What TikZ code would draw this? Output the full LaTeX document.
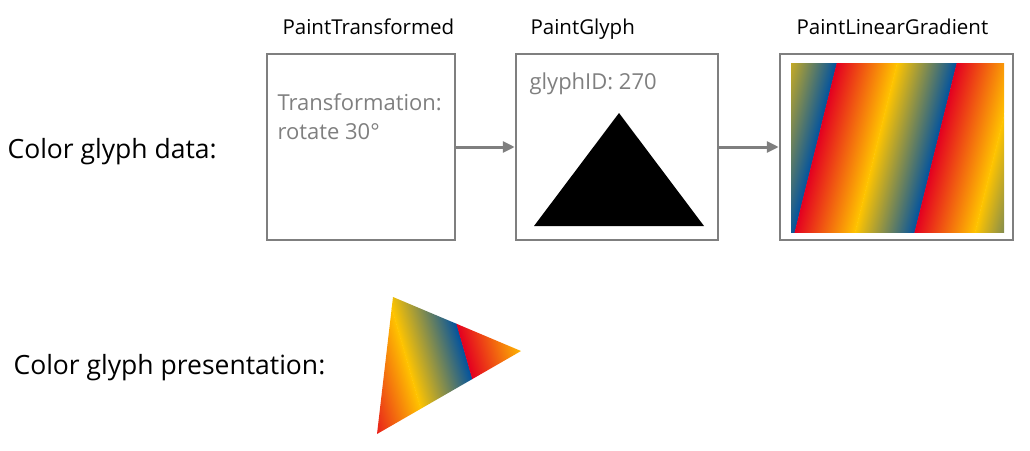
\documentclass[tikz,border=0pt]{standalone}
\usepackage{fontspec}
\setmainfont{Open Sans}
\usetikzlibrary{arrows.meta,positioning}
\definecolor{framegray}{RGB}{127,127,127}
\definecolor{gradred}{RGB}{228,0,32}
\definecolor{gradyellow}{RGB}{255,196,0}
\definecolor{gradblue}{RGB}{0,82,160}

\begin{document}
\begin{tikzpicture}[x=1pt, y=-1pt,
        block/.style={draw=framegray, line width=2.5pt, inner sep=0pt, minimum height=186pt},
        title/.style={anchor=base west, font=\fontsize{20.5}{24}\selectfont},
        info/.style={anchor=base west, text=framegray, font=\fontsize{22}{26}\selectfont},
        caption/.style={anchor=base west, font=\fontsize{26.5}{30}\selectfont},
        >={Triangle[length=12pt, width=11pt]}
    ]
        \useasboundingbox (0,0) rectangle (1030,450);

        % the three paint boxes
        \node [block, minimum width=188pt] (trans) at (361,147) {};
        \node [block, minimum width=202pt] (glyph) at (617,147) {};
        \node [block, minimum width=233pt] (grad) at (896.5,147) {};

        \node [title] (transtitle) at (279,34) {PaintTransformed};
        \node [title] (glyphtitle) at (527,34) {PaintGlyph};
        \node [title] (gradtitle) at (793,34) {PaintLinearGradient};

        \node [info] (rot) at (274,110) {Transformation:};
        \node [info] (rotval) at (274,139) {rotate 30°};
        \node [info] (gid) at (526,89) {glyphID: 270};

        \node [caption] (data) at (4,158) {Color glyph data:};
        \node [caption] (pres) at (10,374) {Color glyph presentation:};

        \draw [->, framegray, line width=3pt] (trans) -- (glyph);
        \draw [->, framegray, line width=3pt] (glyph) -- (grad);

        % glyph outline
        \fill (619,113) -- (704,226) -- (534,226) -- cycle;

        % linear gradient, repeating
        \begin{scope}
            \clip (791,63) rectangle (1004,232);
            \begin{scope}[transform canvas={shift={(816,147.5)}, rotate=-14}]
                \foreach \k in {-2,...,2} {
                    \shade [left color=gradred, right color=gradyellow] ({\k*116.4-0.3},-220) rectangle ({\k*116.4+58.5},220);
                    \shade [left color=gradyellow, right color=gradblue] ({\k*116.4+58.2},-220) rectangle ({\k*116.4+116.4},220);
                }
            \end{scope}
        \end{scope}

        % rotated, painted glyph
        \begin{scope}
            \clip (393,297) -- (521,351) -- (377,434) -- cycle;
            \begin{scope}[transform canvas={shift={(464.7,351.7)}, rotate=16}]
                \foreach \k in {-2,...,1} {
                    \shade [left color=gradred, right color=gradyellow] ({\k*116.4-0.3},-220) rectangle ({\k*116.4+58.5},220);
                    \shade [left color=gradyellow, right color=gradblue] ({\k*116.4+58.2},-220) rectangle ({\k*116.4+116.4},220);
                }
            \end{scope}
        \end{scope}
\end{tikzpicture}
\end{document}
